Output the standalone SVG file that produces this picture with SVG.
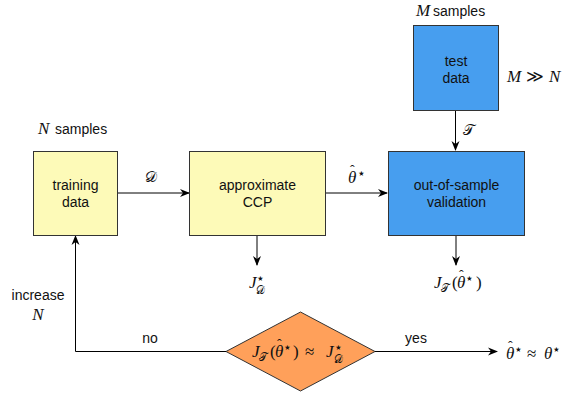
<svg xmlns="http://www.w3.org/2000/svg" width="566" height="395" viewBox="0 0 566 395">
<defs>
<marker id="arr" viewBox="0 0 10 10" refX="9" refY="5" markerWidth="10" markerHeight="10" markerUnits="userSpaceOnUse" orient="auto">
<path d="M0,1 L10,5 L0,9 L3,5 Z" fill="#000"/>
</marker>
<style>
.lbl{font-family:"Liberation Sans",Arial,sans-serif;font-size:14px;fill:#111;}
.m{font-family:"Liberation Serif","DejaVu Serif",serif;font-style:italic;font-size:17px;fill:#111;}
.r{font-family:"Liberation Serif","DejaVu Serif",serif;font-style:normal;font-size:17px;}
.s{font-family:"DejaVu Sans",sans-serif;font-style:normal;font-size:14px;}
.cal{font-family:"DejaVu Sans","Noto Sans",serif;font-style:normal;font-size:15px;fill:#111;}
.sub{font-family:"DejaVu Sans","Noto Sans",serif;font-style:normal;font-size:11px;}
.hat{font-family:"Liberation Serif",serif;font-style:normal;font-size:14px;}
.ylw{fill:#FDFAB8;stroke:#333;stroke-width:1;}
.blu{fill:#479EEF;stroke:#333;stroke-width:1;}
.org{fill:#FFA05A;stroke:#333;stroke-width:1;}
.c{fill:none;stroke:#000;stroke-width:1;}
</style>
</defs>
<g id="connectors">
<path class="c" d="M117,193 H189" marker-end="url(#arr)"/>
<path class="c" d="M326,193 H387" marker-end="url(#arr)"/>
<path class="c" d="M455.5,110 V150" marker-end="url(#arr)"/>
<path class="c" d="M257,235 V265" marker-end="url(#arr)"/>
<path class="c" d="M456,235 V265" marker-end="url(#arr)"/>
<path class="c" d="M226,351.5 H75.5 V236" marker-end="url(#arr)"/>
<path class="c" d="M375,351.5 H497" marker-end="url(#arr)"/>
<text class="cal" x="145" y="182">𝒟</text>
<text class="m" x="348" y="183">θ<tspan class="hat" x="350" y="175">ˆ</tspan><tspan class="s" x="357" y="178">⋆</tspan></text>
<text class="cal" x="463" y="135">𝒯</text>
<text class="lbl" x="150" y="343" text-anchor="middle">no</text>
<text class="lbl" x="416" y="343" text-anchor="middle">yes</text>
<text class="lbl" x="38" y="300" text-anchor="middle">increase</text>
<text class="m" x="38" y="320" text-anchor="middle">N</text>
</g>
<g id="training">
<rect class="ylw" x="33.5" y="151.5" width="84" height="84"/>
<text class="lbl" x="75.5" y="190" text-anchor="middle">training</text>
<text class="lbl" x="75.5" y="207" text-anchor="middle">data</text>
<text class="lbl" x="38" y="134"><tspan class="m">N</tspan><tspan x="55">samples</tspan></text>
</g>
<g id="ccp">
<rect class="ylw" x="189.5" y="151.5" width="136" height="84"/>
<text class="lbl" x="257.5" y="190" text-anchor="middle">approximate</text>
<text class="lbl" x="257.5" y="207" text-anchor="middle">CCP</text>
</g>
<g id="validation">
<rect class="blu" x="388.5" y="151.5" width="136" height="84"/>
<text class="lbl" x="456.5" y="190" text-anchor="middle">out-of-sample</text>
<text class="lbl" x="456.5" y="207" text-anchor="middle">validation</text>
</g>
<g id="test">
<rect class="blu" x="413.5" y="25.5" width="85" height="85"/>
<text class="lbl" x="456" y="66" text-anchor="middle">test</text>
<text class="lbl" x="456" y="83" text-anchor="middle">data</text>
<text class="lbl" x="416" y="16"><tspan class="m">M</tspan><tspan x="433">samples</tspan></text>
<text class="m" x="507" y="82">M<tspan class="r" x="526">≫</tspan><tspan x="549">N</tspan></text>
</g>
<g id="jd">
<text class="m" x="249" y="288">J<tspan class="s" x="256" y="283">⋆</tspan><tspan class="sub" x="256" y="294">𝒟</tspan></text>
</g>
<g id="jt">
<text class="m" x="434" y="288">J<tspan class="sub" x="441" y="292">𝒯</tspan><tspan class="r" x="452" y="288">(</tspan><tspan x="457" y="288">θ</tspan><tspan class="hat" x="459" y="280">ˆ</tspan><tspan class="s" x="465" y="283">⋆</tspan><tspan class="r" x="476" y="288">)</tspan></text>
</g>
<g id="decision">
<polygon class="org" points="226,351.5 300.5,312 375,351.5 300.5,391"/>
<text class="m" x="252" y="357">J<tspan class="sub" x="259" y="361">𝒯</tspan><tspan class="r" x="270" y="357">(</tspan><tspan x="275" y="357">θ</tspan><tspan class="hat" x="277" y="349">ˆ</tspan><tspan class="s" x="283" y="352">⋆</tspan><tspan class="r" x="293" y="357">)</tspan><tspan class="r" x="305" y="357">≈</tspan><tspan x="326" y="357">J</tspan><tspan class="s" x="334" y="352">⋆</tspan><tspan class="sub" x="334" y="363">𝒟</tspan></text>
</g>
<g id="result">
<text class="m" x="506" y="359">θ<tspan class="hat" x="508" y="351">ˆ</tspan><tspan class="s" x="514" y="354">⋆</tspan><tspan class="r" x="527" y="359">≈</tspan><tspan x="544" y="359">θ</tspan><tspan class="s" x="552" y="354">⋆</tspan></text>
</g>
</svg>
